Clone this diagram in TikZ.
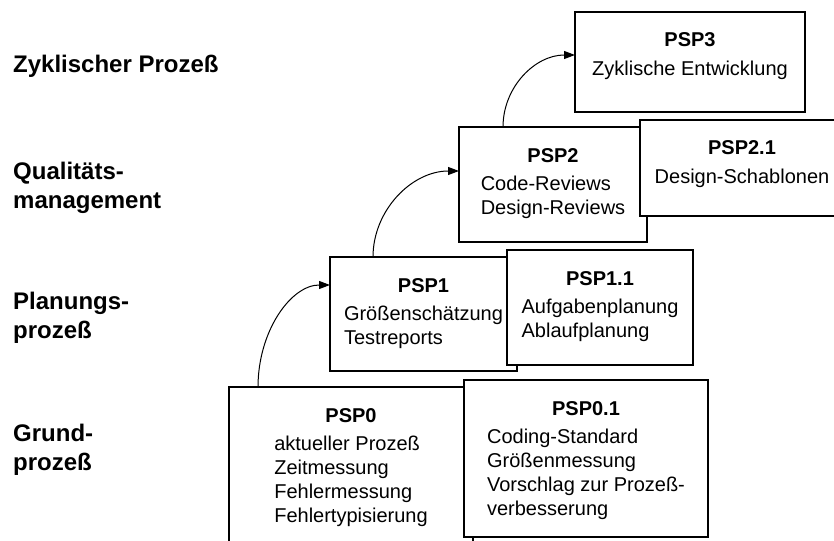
\documentclass[tikz,border=0pt]{standalone}
\usepackage{fontspec}
\setmainfont{Liberation Sans}
\usetikzlibrary{arrows.meta}
\tikzstyle{screen} = [x=1pt, y=-1pt]
\tikzstyle{boxStyle} = [draw=black, fill=white, line width=1.1pt, anchor=north west, inner sep=0pt, outer sep=0pt]
\tikzstyle{titleText} = [anchor=base, inner sep=0pt, font=\fontsize{20}{24}\selectfont\bfseries]
\tikzstyle{bodyText} = [anchor=north, align=left, inner sep=0pt, font=\fontsize{20}{24}\selectfont]
\tikzstyle{levelText} = [anchor=north west, align=left, inner sep=0pt, font=\fontsize{24}{29}\selectfont\bfseries]
\tikzstyle{stepArrow} = [line width=1pt, -{Triangle[length=11pt,width=8pt]}]
% box from (#2,#3) to (#4,#5), bold title and a left aligned block of lines
\newcommand{\pspBox}[7]{
  \node [boxStyle, minimum width=#4pt-#2pt, minimum height=#5pt-#3pt] (#1) at (#2,#3) {};
  \node [titleText] (#1Title) at ([yshift=-35pt]#1.north) {#6};
  \node [bodyText] (#1Body) at ([yshift=-46.2pt]#1.north) {\strut #7};
}
\begin{document}
\begin{tikzpicture}[screen]
  \clip (0,0) rectangle (834,540);
  % levels on the left
  \node [levelText] (zyklisch) at (13,51.7) {\strut Zyklischer Prozeß};
  \node [levelText] (qualitaet) at (13,158.7) {\strut Qualitäts-\\management};
  \node [levelText] (planung) at (13,288.7) {\strut Planungs-\\prozeß};
  \node [levelText] (grund) at (13,420.7) {\strut Grund-\\prozeß};
  % steps, back to front
  \pspBox{pspZero}{229}{387}{473}{560}{PSP0}{aktueller Prozeß\\Zeitmessung\\Fehlermessung\\Fehlertypisierung}
  \pspBox{pspZeroOne}{464}{380}{708}{537}{PSP0.1}{Coding-Standard\\Größenmessung\\Vorschlag zur Prozeß-\\verbesserung}
  \pspBox{pspOne}{330}{257}{517}{371}{PSP1}{Größenschätzung\\Testreports}
  \pspBox{pspOneOne}{507}{250}{693}{365}{PSP1.1}{Aufgabenplanung\\Ablaufplanung}
  \pspBox{pspTwo}{459}{127}{647}{242}{PSP2}{Code-Reviews\\Design-Reviews}
  \pspBox{pspTwoOne}{640}{120}{844}{216}{PSP2.1}{Design-Schablonen}
  \pspBox{pspThree}{575}{12}{805}{112}{PSP3}{Zyklische Entwicklung}
  % arrows up the stairs
  \draw [stepArrow] ([xshift=29pt]pspZero.north west) .. controls +(0,-56) and +(-39,0) .. ([yshift=-28pt]pspOne.north west);
  \draw [stepArrow] ([xshift=43pt]pspOne.north west) .. controls +(0,-47) and +(-47,0) .. ([yshift=-44pt]pspTwo.north west);
  \draw [stepArrow] ([xshift=44pt]pspTwo.north west) .. controls +(0,-40) and +(-40,0) .. ([yshift=-43pt]pspThree.north west);
\end{tikzpicture}
\end{document}
